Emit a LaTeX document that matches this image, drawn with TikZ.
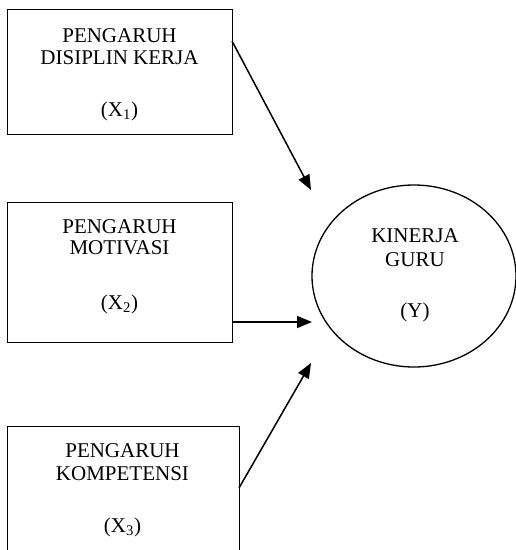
\documentclass[tikz,border=0pt]{standalone}
\usepackage{fontspec}
\setmainfont{Liberation Serif}
\usetikzlibrary{arrows.meta}
\begin{document}
\begin{tikzpicture}[x=1pt,y=-1pt,
  box/.style={draw,line width=1.1pt,inner sep=0pt,anchor=north west},
  txt/.style={anchor=base,inner sep=0pt,font=\fontsize{21}{22}\selectfont},
  arr/.style={line width=1.5pt,-{Triangle[length=15pt,width=12pt]}}]
\clip (0,0) rectangle (516,550);
\fill[white] (0,0) rectangle (516,550);
% boxes
\node[box,minimum width=225pt,minimum height=125pt] (b1) at (7,9) {};
\node[box,minimum width=225pt,minimum height=140pt] (b2) at (7,202) {};
\node[box,minimum width=232pt,minimum height=150pt] (b3) at (7,426) {};
% ellipse
\draw[line width=1.3pt] (414,276) ellipse [x radius=102, y radius=91];
\coordinate (ell) at (414,276);
% texts
\node[txt] (t11) at (119.5,42) {PENGARUH};
\node[txt] (t12) at (119.5,64) {DISIPLIN KERJA};
\node[txt] (t13) at (119.5,116) {(X\textsubscript{1})};
\node[txt] (t21) at (119.5,233) {PENGARUH};
\node[txt] (t22) at (119.5,254) {MOTIVASI};
\node[txt] (t23) at (119.5,309) {(X\textsubscript{2})};
\node[txt] (t31) at (122.5,457) {PENGARUH};
\node[txt] (t32) at (122.5,480) {KOMPETENSI};
\node[txt] (t33) at (122.5,532) {(X\textsubscript{3})};
\node[txt] (ty1) at (415,242) {KINERJA};
\node[txt] (ty2) at (415,266) {GURU};
\node[txt] (ty3) at (415,317) {(Y)};
% connector endpoints
\coordinate (s1) at (232,41);
\coordinate (e1) at (311,190);
\coordinate (s2) at (232,322);
\coordinate (e2) at (312,322);
\coordinate (s3) at (239,488);
\coordinate (e3) at (311,363);
\draw[arr] (s1) -- (e1);
\draw[arr] (s2) -- (e2);
\draw[arr] (s3) -- (e3);
\end{tikzpicture}
\end{document}
